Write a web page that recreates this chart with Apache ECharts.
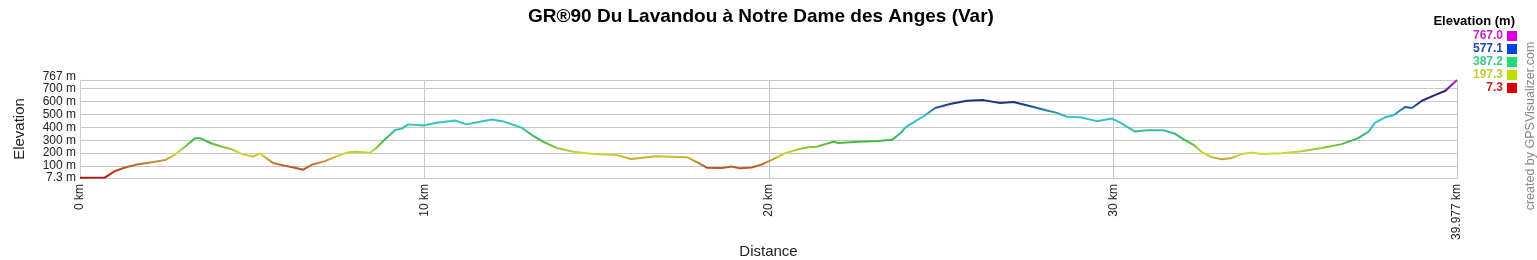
<!DOCTYPE html>
<html>
<head>
<meta charset="utf-8">
<script src="https://cdn.jsdelivr.net/npm/echarts@6/dist/echarts.min.js"></script>
<style>
html,body{margin:0;padding:0;background:#fff;}
#chart{width:1537px;height:260px;}
</style>
</head>
<body>
<div id="chart"></div>
<script>
const distanceKm = [0,0.73,1.02,1.31,1.65,2.08,2.47,2.76,3.05,3.34,3.48,3.82,4.12,4.40,4.69,5.03,5.21,5.37,5.61,5.95,6.24,6.48,6.73,7.11,7.50,7.79,8.00,8.42,8.57,8.81,9.15,9.34,9.53,9.97,10.36,10.89,11.21,11.61,11.95,12.29,12.82,13.16,13.45,13.84,14.32,14.90,15.58,16.00,16.70,17.62,17.91,18.20,18.63,18.92,19.16,19.50,19.79,20.08,20.47,20.86,21.15,21.39,21.87,22.02,22.60,23.18,23.57,23.81,23.95,24.10,24.49,24.83,25.26,25.75,26.23,26.71,27.10,27.68,28.07,28.36,28.65,29.04,29.52,29.96,30.20,30.63,30.97,31.46,31.79,32.08,32.33,32.57,32.86,33.15,33.44,33.73,34.02,34.31,34.89,35.47,36.05,36.63,37.11,37.41,37.60,37.89,38.13,38.47,38.67,38.96,39.35,39.64,39.93,39.977];
const elevationM = [9,12,62,89,112,130,146,189,250,316,316,275,250,230,194,173,199,169,123,102,87,72,110,138,181,207,210,204,232,295,379,390,423,415,436,453,423,443,461,446,398,333,288,240,211,194,186,154,176,169,131,87,85,97,82,89,112,148,199,230,245,250,288,278,288,295,303,352,395,423,486,550,581,606,611,588,596,558,530,512,482,478,448,468,436,367,377,377,350,301,265,207,169,153,163,194,204,194,199,214,240,270,316,367,436,478,494,558,550,606,652,684,755,767];
const yTickValues = [7.3,100,200,300,400,500,600,700,767];
const yLabelValues = [7.3,100,200,300,400,500,600,700];
const yTopLabel = [767];
const xTickValues = [0,10,20,30,39.977];
const legendValues = ['767.0','577.1','387.2','197.3','7.3'];
const legendTextColors = ['#c822c8','#2244b0','#33cc88','#c4cc33','#c82222'];
const legendBoxColors = ['#dd00dd','#0044dd','#22dd77','#bbdd00','#dd0000'];

const lineData = distanceKm.map((d,i)=>[d, elevationM[i]]);

const FONT = '"Liberation Sans", Arial, sans-serif';
const graphics = [
  {type:'text', x:1515, y:21, style:{text:'Elevation (m)', font:'bold 13px ' + FONT, fill:'#000', align:'right', verticalAlign:'middle'}}
];
legendValues.forEach((v,i)=>{
  const cy = 36 + i*13;
  graphics.push({type:'text', x:1503, y:cy, style:{text:v, font:'bold 12px ' + FONT, fill:legendTextColors[i], align:'right', verticalAlign:'middle'}});
  graphics.push({type:'rect', shape:{x:1507, y:cy-5, width:10, height:10}, style:{fill:legendBoxColors[i]}});
});
graphics.push({type:'text', x:1531, y:126, rotation:Math.PI/2, style:{text:'created by GPSVisualizer.com', font:'12.5px ' + FONT, fill:'#888', align:'center', verticalAlign:'middle'}});

const labelStyle = {fontFamily:FONT, fontSize:12, color:'#222'};

const chart = echarts.init(document.getElementById('chart'), null, {renderer:'canvas'});
chart.setOption({
  animation:false,
  backgroundColor:'#fff',
  title:{text:'GR®90 Du Lavandou à Notre Dame des Anges (Var)', left:523, top:2,
    textStyle:{fontFamily:FONT, fontWeight:'bold', fontSize:19, color:'#000'}},
  grid:{left:80, right:80, top:80, bottom:81},
  xAxis:{type:'value', min:0, max:39.977,
    name:'Distance', nameLocation:'middle', nameGap:66,
    nameTextStyle:{fontFamily:FONT, fontSize:15, color:'#222'},
    axisLine:{show:true, lineStyle:{color:'#ccc'}},
    axisTick:{show:false, customValues:xTickValues},
    axisLabel:Object.assign({customValues:xTickValues, rotate:90, margin:6, showMinLabel:true, showMaxLabel:true,
      formatter:v=>v+' km'}, labelStyle),
    splitLine:{show:true, lineStyle:{color:'#c8c8c8'}}
  },
  yAxis:[
    {type:'value', min:7.3, max:767,
      name:'Elevation', nameLocation:'middle', nameGap:53,
      nameTextStyle:{fontFamily:FONT, fontSize:15, color:'#222'},
      axisLine:{show:true, lineStyle:{color:'#ccc'}},
      axisTick:{show:false, customValues:yTickValues},
      axisLabel:Object.assign({customValues:yLabelValues, margin:4, showMinLabel:true,
        formatter:v=>v+' m'}, labelStyle),
      splitLine:{show:true, lineStyle:{color:'#c8c8c8'}}
    },
    {type:'value', min:7.3, max:767, position:'left',
      axisLine:{show:false}, axisTick:{show:false, customValues:yTopLabel},
      axisLabel:Object.assign({customValues:yTopLabel, margin:4, showMaxLabel:true, verticalAlign:'bottom', lineHeight:7,
        formatter:v=>v+' m'}, labelStyle),
      splitLine:{show:false}
    }
  ],
  visualMap:{type:'continuous', show:false, dimension:1, min:7.3, max:767, seriesIndex:0,
    inRange:{color:['#aa1515','#c0642a','#d4d832','#40b840','#30c0b0','#30c8d0','#1a3a8c','#2a1a78','#cc20d0']}},
  series:[{type:'line', data:lineData, showSymbol:false, lineStyle:{width:2}}],
  graphic:graphics
});
</script>
</body>
</html>
